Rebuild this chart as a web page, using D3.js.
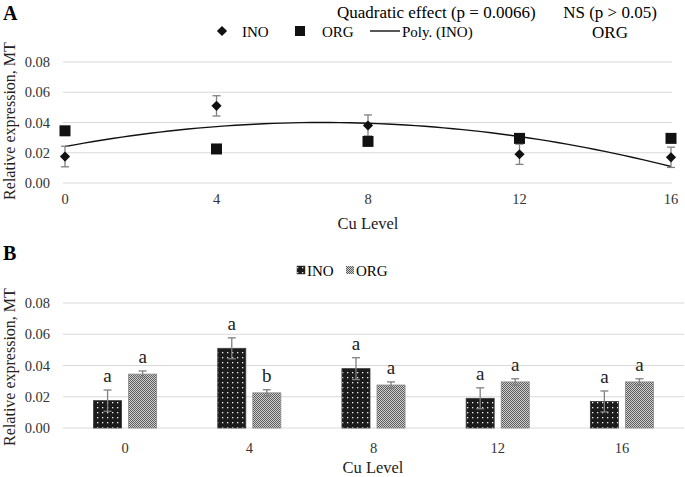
<!DOCTYPE html>
<html>
<head>
<meta charset="utf-8">
<script src="https://cdn.jsdelivr.net/npm/d3@7"></script>
<style>
  html, body { margin: 0; padding: 0; background: #fff; }
  svg { display: block; font-family: "Liberation Serif", "Times New Roman", serif; }
</style>
</head>
<body>
<svg id="chart" width="685" height="477"></svg>
<script>
// ---- data ----
const cuLevels = [0, 4, 8, 12, 16];
const categories = ["0", "4", "8", "12", "16"];
const seriesNames = ["INO", "ORG"];
const inoValues = [0.0175, 0.051, 0.038, 0.019, 0.017];
const orgValues = [0.0345, 0.0225, 0.0275, 0.0295, 0.0295];
const inoErrors = [0.0068, 0.0067, 0.007, 0.0067, 0.0067];
const orgErrors = [0.002, 0.002, 0.002, 0.002, 0.002];
const inoLetters = ["a", "a", "a", "a", "a"];
const orgLetters = ["a", "b", "a", "a", "a"];
const yTicks = [0, 0.02, 0.04, 0.06, 0.08];

const svg = d3.select("#chart");
const fmt = d3.format(".2f");
const gridColor = "#d9d9d9";
const errColor = "#808080";
const diamondPath = d3.symbol(d3.symbolSquare, 52)();

// ---- patterns ----
const defs = svg.append("defs");
const pINO = defs.append("pattern").attr("id", "pINO").attr("patternUnits", "userSpaceOnUse")
  .attr("width", 5).attr("height", 5);
pINO.append("rect").attr("width", 5).attr("height", 5).attr("fill", "#1c1c1c");
pINO.append("rect").attr("x", 2).attr("y", 2).attr("width", 1.3).attr("height", 1.3).attr("fill", "#f0f0f0");
const pORG = defs.append("pattern").attr("id", "pORG").attr("patternUnits", "userSpaceOnUse")
  .attr("width", 2).attr("height", 2);
pORG.append("rect").attr("width", 2).attr("height", 2).attr("fill", "#d0d0d0");
pORG.append("rect").attr("width", 1).attr("height", 1).attr("fill", "#5c5c5c");
pORG.append("rect").attr("x", 1).attr("y", 1).attr("width", 1).attr("height", 1).attr("fill", "#5c5c5c");

// ================= Panel A =================
const xA = d3.scaleLinear().domain([0, 16]).range([65, 671]);
const yA = d3.scaleLinear().domain([0, 0.08]).range([183, 62]);

svg.append("text").attr("x", 3).attr("y", 20).attr("font-size", 20).attr("font-weight", "bold").text("A");
svg.append("text").attr("x", 337).attr("y", 18).attr("font-size", 17).text("Quadratic effect (p = 0.0066)");
svg.append("text").attr("x", 610).attr("y", 18).attr("font-size", 17).attr("text-anchor", "middle").text("NS (p > 0.05)");
svg.append("text").attr("x", 610).attr("y", 38).attr("font-size", 17).attr("text-anchor", "middle").text("ORG");

// legend A
const legA = svg.append("g");
legA.append("path").attr("d", diamondPath).attr("transform", "translate(222,31) rotate(45)").attr("fill", "#111");
legA.append("text").attr("x", 242).attr("y", 37).attr("font-size", 15).text("INO");
legA.append("rect").attr("x", 295).attr("y", 26).attr("width", 10).attr("height", 10).attr("fill", "#111");
legA.append("text").attr("x", 322).attr("y", 37).attr("font-size", 15).text("ORG");
legA.append("line").attr("x1", 370).attr("x2", 400).attr("y1", 31).attr("y2", 31).attr("stroke", "#111").attr("stroke-width", 1.4);
legA.append("text").attr("x", 402).attr("y", 37).attr("font-size", 15).text("Poly. (INO)");

// grid + y ticks
const gA = svg.append("g");
gA.selectAll("line.grid").data(yTicks).join("line")
  .attr("x1", 63).attr("x2", 672).attr("y1", d => yA(d)).attr("y2", d => yA(d))
  .attr("stroke", gridColor).attr("stroke-width", 1);
gA.selectAll("text.yt").data(yTicks).join("text")
  .attr("x", 50).attr("y", d => yA(d) + 5).attr("text-anchor", "end").attr("font-size", 14.5).attr("fill", "#333")
  .text(d => fmt(d));
gA.selectAll("text.xt").data(cuLevels).join("text")
  .attr("x", d => xA(d)).attr("y", 204).attr("text-anchor", "middle").attr("font-size", 14.5).attr("fill", "#333")
  .text(d => d);
svg.append("text").attr("x", 368).attr("y", 229).attr("text-anchor", "middle").attr("font-size", 16.5).attr("fill", "#222").text("Cu Level");
svg.append("text").attr("transform", "translate(15,121) rotate(-90)").attr("text-anchor", "middle")
  .attr("font-size", 16).attr("fill", "#222").text("Relative expression, MT");

// quadratic least-squares trendline (Excel "Poly. (INO)")
function quadFit(xs, ys) {
  const n = xs.length;
  let s = [0, 0, 0, 0, 0], t = [0, 0, 0];
  for (let i = 0; i < n; i++) {
    for (let k = 0; k < 5; k++) s[k] += Math.pow(xs[i], k);
    for (let k = 0; k < 3; k++) t[k] += ys[i] * Math.pow(xs[i], k);
  }
  const M = [[s[0], s[1], s[2], t[0]], [s[1], s[2], s[3], t[1]], [s[2], s[3], s[4], t[2]]];
  for (let i = 0; i < 3; i++) {
    for (let j = i + 1; j < 3; j++) {
      const f = M[j][i] / M[i][i];
      for (let k = i; k < 4; k++) M[j][k] -= f * M[i][k];
    }
  }
  const c = [0, 0, 0];
  for (let i = 2; i >= 0; i--) {
    let v = M[i][3];
    for (let k = i + 1; k < 3; k++) v -= M[i][k] * c[k];
    c[i] = v / M[i][i];
  }
  return x => c[0] + c[1] * x + c[2] * x * x;
}
const fit = quadFit(cuLevels, inoValues);
const trendX = d3.range(0, 16.001, 0.25);
svg.append("path").datum(trendX)
  .attr("d", d3.line().x(d => xA(d)).y(d => yA(fit(d))))
  .attr("fill", "none").attr("stroke", "#111").attr("stroke-width", 1.4);

// error bars
function errBars(g, xs, vals, errs, xf, yf, cap) {
  const idx = d3.range(vals.length);
  g.selectAll(null).data(idx).join("line")
    .attr("x1", i => xf(xs[i])).attr("x2", i => xf(xs[i]))
    .attr("y1", i => yf(vals[i] - errs[i])).attr("y2", i => yf(vals[i] + errs[i]))
    .attr("stroke", errColor).attr("stroke-width", 1.3);
  g.selectAll(null).data(idx).join("line")
    .attr("x1", i => xf(xs[i]) - cap).attr("x2", i => xf(xs[i]) + cap)
    .attr("y1", i => yf(vals[i] + errs[i])).attr("y2", i => yf(vals[i] + errs[i]))
    .attr("stroke", errColor).attr("stroke-width", 1.3);
  g.selectAll(null).data(idx).join("line")
    .attr("x1", i => xf(xs[i]) - cap).attr("x2", i => xf(xs[i]) + cap)
    .attr("y1", i => yf(vals[i] - errs[i])).attr("y2", i => yf(vals[i] - errs[i]))
    .attr("stroke", errColor).attr("stroke-width", 1.3);
}
const eA = svg.append("g");
errBars(eA, cuLevels, orgValues, orgErrors, xA, yA, 4);
errBars(eA, cuLevels, inoValues, inoErrors, xA, yA, 4);

svg.append("g").selectAll("rect").data(d3.range(orgValues.length)).join("rect")
  .attr("x", i => xA(cuLevels[i]) - 5.5).attr("y", i => yA(orgValues[i]) - 5.5)
  .attr("width", 11).attr("height", 11).attr("fill", "#111");
svg.append("g").selectAll("path").data(d3.range(inoValues.length)).join("path")
  .attr("d", diamondPath)
  .attr("transform", i => `translate(${xA(cuLevels[i])},${yA(inoValues[i])}) rotate(45)`)
  .attr("fill", "#111");

// ================= Panel B =================
const x0 = d3.scaleBand().domain(categories).range([63, 684]).padding(0);
const x1 = d3.scaleBand().domain(seriesNames)
  .range([x0.bandwidth() * 0.246, x0.bandwidth() * 0.754]).paddingInner(0.2);
const yB = d3.scaleLinear().domain([0, 0.08]).range([428, 303]);

svg.append("text").attr("x", 3).attr("y", 260).attr("font-size", 20).attr("font-weight", "bold").text("B");

// legend B
svg.append("rect").attr("x", 297).attr("y", 266).attr("width", 8).attr("height", 8).attr("fill", "url(#pINO)").attr("stroke", "#333").attr("stroke-width", 0.5);
svg.append("text").attr("x", 307).attr("y", 276).attr("font-size", 15).text("INO");
svg.append("rect").attr("x", 346).attr("y", 266).attr("width", 8).attr("height", 8).attr("fill", "url(#pORG)");
svg.append("text").attr("x", 356).attr("y", 276).attr("font-size", 15).text("ORG");

const gB = svg.append("g");
gB.selectAll("line.grid").data(yTicks).join("line")
  .attr("x1", 63).attr("x2", 684).attr("y1", d => yB(d)).attr("y2", d => yB(d))
  .attr("stroke", gridColor).attr("stroke-width", 1);
gB.selectAll("text.yt").data(yTicks).join("text")
  .attr("x", 50).attr("y", d => yB(d) + 5).attr("text-anchor", "end").attr("font-size", 14.5).attr("fill", "#333")
  .text(d => fmt(d));
gB.selectAll("text.xt").data(categories).join("text")
  .attr("x", d => x0(d) + x0.bandwidth() / 2).attr("y", 453).attr("text-anchor", "middle").attr("font-size", 14.5).attr("fill", "#333")
  .text(d => d);
svg.append("text").attr("x", 373).attr("y", 473).attr("text-anchor", "middle").attr("font-size", 16.5).attr("fill", "#222").text("Cu Level");
svg.append("text").attr("transform", "translate(15,367) rotate(-90)").attr("text-anchor", "middle")
  .attr("font-size", 16).attr("fill", "#222").text("Relative expression, MT");

const barSeries = [
  { name: "INO", vals: inoValues, errs: inoErrors, letters: inoLetters, fill: "url(#pINO)", stroke: "#3a3a3a" },
  { name: "ORG", vals: orgValues, errs: orgErrors, letters: orgLetters, fill: "url(#pORG)", stroke: "#8a8a8a" }
];
barSeries.forEach(s => {
  const cx = i => x0(categories[i]) + x1(s.name) + x1.bandwidth() / 2;
  const idx = d3.range(s.vals.length);
  gB.append("g").selectAll("rect").data(idx).join("rect")
    .attr("x", i => x0(categories[i]) + x1(s.name))
    .attr("y", i => yB(s.vals[i]))
    .attr("width", x1.bandwidth())
    .attr("height", i => yB(0) - yB(s.vals[i]))
    .attr("fill", s.fill).attr("stroke", s.stroke).attr("stroke-width", 0.8);
  const eg = gB.append("g");
  errBars(eg, idx, s.vals, s.errs, cx, yB, 4);
  gB.append("g").selectAll("text").data(idx).join("text")
    .attr("x", cx).attr("y", i => yB(s.vals[i] + s.errs[i]) - 8)
    .attr("text-anchor", "middle").attr("font-size", 19).attr("fill", "#222")
    .text(i => s.letters[i]);
});
</script>
</body>
</html>
